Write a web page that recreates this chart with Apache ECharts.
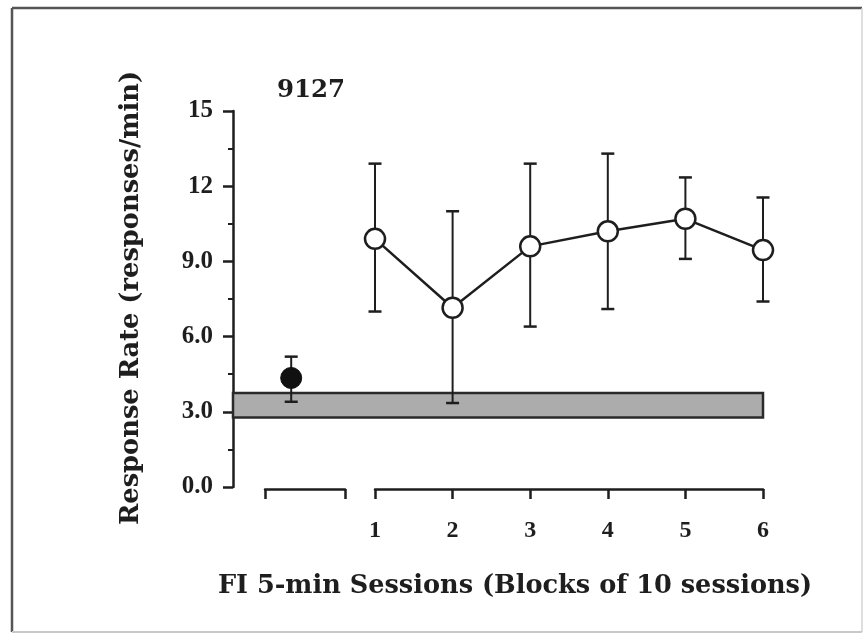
<!DOCTYPE html>
<html>
<head>
<meta charset="utf-8">
<script src="https://cdn.jsdelivr.net/npm/echarts@6/dist/echarts.min.js"></script>
<style>
  html, body { margin: 0; padding: 0; background: #fff; }
  #chart { width: 866px; height: 635px; }
</style>
</head>
<body>
<div id="chart"></div>
<script>
// Subject 9127: response rate per block of 10 FI 5-min sessions
const subjectId = '9127';
const blocks = [1, 2, 3, 4, 5, 6];
const meanRate = [9.9, 7.15, 9.6, 10.2, 10.7, 9.45];
const upperRate = [12.9, 11.0, 12.9, 13.3, 12.35, 11.55];
const lowerRate = [7.0, 3.35, 6.4, 7.1, 9.1, 7.4];

// Baseline (pre-FI) point, plotted left of block 1
const baselineX = [-0.08];
const baselineMean = [4.35];
const baselineUpper = [5.2];
const baselineLower = [3.4];

// Shaded reference range
const bandLow = 2.77;
const bandHigh = 3.75;

const yTicks = [0, 3, 6, 9, 12, 15];
const yTickLabels = ['0.0', '3.0', '6.0', '9.0', '12', '15'];
const xTickLabels = ['1', '2', '3', '4', '5', '6'];

const yTitle = 'Response Rate (responses/min)';
const xTitle = 'FI 5-min Sessions (Blocks of 10 sessions)';

const TICK_FONT = '"Liberation Serif", serif';
const TITLE_FONT = '"DejaVu Serif", serif';
const INK = '#1e1e1e';

const chart = echarts.init(document.getElementById('chart'), null, { renderer: 'canvas' });

function errorBarItem(params, api) {
  const x = api.value(0);
  const top = api.coord([x, api.value(2)]);
  const bot = api.coord([x, api.value(1)]);
  const cap = 6.5;
  const style = { stroke: INK, lineWidth: 2 };
  const capStyle = { stroke: INK, lineWidth: 2.5 };
  return {
    type: 'group',
    children: [
      { type: 'line', shape: { x1: top[0], y1: top[1], x2: bot[0], y2: bot[1] }, style },
      { type: 'line', shape: { x1: top[0] - cap, y1: top[1], x2: top[0] + cap, y2: top[1] }, style: capStyle },
      { type: 'line', shape: { x1: bot[0] - cap, y1: bot[1], x2: bot[0] + cap, y2: bot[1] }, style: capStyle }
    ]
  };
}

const axisLineStyle = { color: INK, width: 2.5 };

const option = {
  backgroundColor: '#fff',
  animation: false,
  grid: [
    // plotting area
    { left: 233, right: 103, top: 111, bottom: 148 },
    // block axis (1..6)
    { left: 375, right: 103, top: 111, bottom: 146 },
    // baseline bracket
    { left: 265, right: 521, top: 111, bottom: 146 }
  ],
  xAxis: [
    { gridIndex: 0, type: 'value', min: -0.83, max: 6, show: false },
    {
      gridIndex: 1, type: 'value', min: 1, max: 6, interval: 1,
      axisLine: { show: true, lineStyle: axisLineStyle },
      axisTick: { show: true, length: 10, lineStyle: axisLineStyle },
      splitLine: { show: false },
      axisLabel: {
        margin: 30, fontFamily: TICK_FONT, fontWeight: 'bold', fontSize: 24, color: INK,
        formatter: v => xTickLabels[blocks.indexOf(v)]
      }
    },
    {
      gridIndex: 2, type: 'value', min: 0, max: 1, interval: 1,
      axisLine: { show: true, lineStyle: axisLineStyle },
      axisTick: { show: true, length: 10, lineStyle: axisLineStyle },
      splitLine: { show: false },
      axisLabel: { show: false }
    }
  ],
  yAxis: [
    {
      gridIndex: 0, type: 'value', min: 0, max: 15, interval: 3,
      axisLine: { show: true, onZero: false, lineStyle: axisLineStyle },
      axisTick: { show: true, length: 10, lineStyle: axisLineStyle },
      minorTick: { show: true, splitNumber: 2, length: 5, lineStyle: { color: INK, width: 2 } },
      splitLine: { show: false },
      axisLabel: {
        margin: 20, fontFamily: TICK_FONT, fontWeight: 'bold', fontSize: 25, color: INK,
        formatter: v => yTickLabels[yTicks.indexOf(v)]
      }
    },
    { gridIndex: 1, type: 'value', min: 0, max: 15, show: false },
    { gridIndex: 2, type: 'value', min: 0, max: 15, show: false }
  ],
  graphic: [
    // frame: dark on left/top, faint on right/bottom
    { type: 'line', silent: true, shape: { x1: 12, y1: 8, x2: 12, y2: 632 }, style: { stroke: '#555', lineWidth: 2.5 } },
    { type: 'line', silent: true, shape: { x1: 12, y1: 8, x2: 862, y2: 8 }, style: { stroke: '#555', lineWidth: 2.5 } },
    { type: 'line', silent: true, shape: { x1: 862, y1: 8, x2: 862, y2: 632 }, style: { stroke: '#d4d4d4', lineWidth: 1.5 } },
    { type: 'line', silent: true, shape: { x1: 12, y1: 632, x2: 862, y2: 632 }, style: { stroke: '#c8c8c8', lineWidth: 2 } },
    {
      type: 'text', silent: true, x: 131, y: 298, rotation: Math.PI / 2,
      style: {
        text: yTitle, font: 'bold 25.7px ' + TITLE_FONT, fill: INK,
        textAlign: 'center', textVerticalAlign: 'middle'
      }
    },
    {
      type: 'text', silent: true, x: 515, y: 586,
      style: {
        text: xTitle, font: 'bold 25.6px ' + TITLE_FONT, fill: INK,
        textAlign: 'center', textVerticalAlign: 'middle'
      }
    },
    {
      type: 'text', silent: true, x: 311, y: 91,
      style: {
        text: subjectId, font: 'bold 24.5px ' + TITLE_FONT, fill: INK,
        textAlign: 'center', textVerticalAlign: 'middle'
      }
    }
  ],
  series: [
    {
      type: 'custom', name: 'block range', xAxisIndex: 0, yAxisIndex: 0, z: 3,
      renderItem: errorBarItem,
      data: blocks.map((b, i) => [b, lowerRate[i], upperRate[i]]),
      markArea: {
        silent: true,
        itemStyle: { color: '#acacac', borderColor: '#2a2a2a', borderWidth: 2.5, opacity: 1 },
        data: [[{ yAxis: bandLow }, { yAxis: bandHigh }]]
      }
    },
    {
      type: 'custom', name: 'baseline range', xAxisIndex: 0, yAxisIndex: 0, z: 3,
      renderItem: errorBarItem,
      data: baselineX.map((x, i) => [x, baselineLower[i], baselineUpper[i]])
    },
    {
      type: 'line', name: 'FI blocks', xAxisIndex: 0, yAxisIndex: 0, z: 5,
      data: blocks.map((b, i) => [b, meanRate[i]]),
      symbol: 'circle', symbolSize: 20, showAllSymbol: true,
      lineStyle: { color: INK, width: 2.5 },
      itemStyle: { color: '#fff', borderColor: INK, borderWidth: 2.5 }
    },
    {
      type: 'scatter', name: 'baseline', xAxisIndex: 0, yAxisIndex: 0, z: 5,
      data: baselineX.map((x, i) => [x, baselineMean[i]]),
      symbol: 'circle', symbolSize: 21,
      itemStyle: { color: '#111', borderColor: '#111', borderWidth: 1, opacity: 1 }
    }
  ]
};

chart.setOption(option);
</script>
</body>
</html>
